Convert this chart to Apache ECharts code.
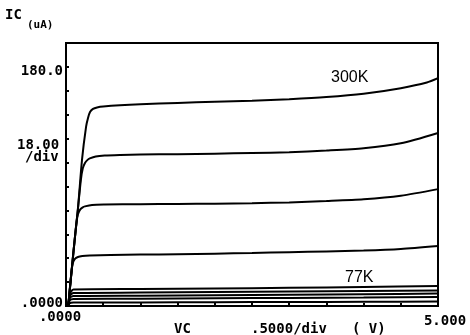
<!DOCTYPE html>
<html>
<head>
<meta charset="utf-8">
<script src="https://cdn.jsdelivr.net/npm/echarts@6/dist/echarts.min.js"></script>
<style>html,body{margin:0;padding:0;background:#fff}#c{width:470px;height:335px}</style>
</head>
<body>
<div id="c"></div>
<script>
// X axis: VC (V), Y axis: IC (uA)
const xTickLabels = { 0: '.0000', 5: '5.000' };
const yTickLabels = { 0: '.0000', 180: '180.0' };

// [VC (V), IC (uA)] pairs
const curve300K = [[0.03,0],[0.1,41],[0.16,73],[0.215,110],[0.27,135],[0.296,141.6],[0.323,146],[0.363,148.4],[0.417,149.5],[0.5,150.2],[1.0,151.8],[1.5,152.9],[2.0,153.7],[2.5,154.5],[3.0,155.7],[3.5,157.3],[4.0,159.8],[4.5,164],[4.85,168.2],[5.0,171.5]];
const curveT2 = [[0.03,0],[0.1,41],[0.16,73],[0.2,95],[0.225,103.5],[0.255,107.7],[0.29,110],[0.32,111.1],[0.4,112.6],[0.52,113.3],[0.73,113.7],[1.0,114],[1.5,114.3],[2.0,114.7],[2.5,115.2],[3.0,115.8],[3.5,117],[4.0,118.7],[4.5,122.5],[5.0,130.3]];
const curveT3 = [[0.03,0],[0.1,40],[0.135,60],[0.16,69],[0.19,72.6],[0.225,74.3],[0.255,75],[0.35,76.1],[0.52,76.4],[1.0,76.6],[1.5,76.8],[2.0,77],[2.5,77.4],[3.0,78],[3.5,79],[4.0,80.3],[4.5,83],[5.0,88]];
const curveT4 = [[0.03,0],[0.07,24],[0.09,32],[0.12,35.4],[0.16,36.9],[0.22,37.6],[0.32,38],[0.6,38.4],[1.0,38.7],[1.5,39],[2.0,39.4],[2.5,39.9],[3.0,40.5],[3.5,41.1],[4.0,41.8],[4.5,43],[5.0,45.2]];
const curve77Ka = [[0.03,0],[0.06,10],[0.1,12.4],[1,12.8],[2,13.2],[3,13.7],[4,14.3],[5,15.1]];
const curve77Kb = [[0.03,0],[0.055,8],[0.1,9.8],[1,10.1],[2,10.5],[3,10.9],[4,11.3],[5,11.7]];
const curve77Kc = [[0.03,0],[0.05,6],[0.1,7.5],[1,7.8],[2,8.1],[3,8.5],[4,8.9],[5,9.4]];
const curve77Kd = [[0.03,0],[0.05,4.3],[0.1,5.3],[1,5.5],[2,5.8],[3,6.1],[4,6.4],[5,6.8]];
const curve77Ke = [[0.03,0],[0.045,2],[0.1,2.6],[1,2.7],[2,2.9],[3,3.0],[4,3.2],[5,3.4]];

const allCurves = [curve300K, curveT2, curveT3, curveT4, curve77Ka, curve77Kb, curve77Kc, curve77Kd, curve77Ke];

const mono = 'DejaVu Sans Mono';
const chart = echarts.init(document.getElementById('c'), null, {renderer: 'canvas'});

chart.setOption({
  animation: false,
  backgroundColor: '#fff',
  grid: { left: 66, right: 32, top: 43, bottom: 29, show: true, borderColor: '#000', borderWidth: 2, backgroundColor: 'transparent' },
  xAxis: {
    type: 'value', min: 0, max: 5, interval: 0.5,
    axisLine: { lineStyle: { color: '#000', width: 2 } },
    axisTick: { show: true, inside: true, length: 3, lineStyle: { color: '#000', width: 2 } },
    splitLine: { show: false },
    axisLabel: {
      margin: 4,
      formatter: v => (xTickLabels[v] !== undefined ? (v === 0 ? '{a|' + xTickLabels[v] + '}' : '{b|' + xTickLabels[v] + '}') : ''),
      rich: {
        a: { fontFamily: mono, fontWeight: 'bold', fontSize: 14, color: '#000', padding: [0, 12, 0, 0] },
        b: { fontFamily: mono, fontWeight: 'bold', fontSize: 14, color: '#000', padding: [4, 0, 0, 14] }
      }
    }
  },
  yAxis: {
    type: 'value', min: 0, max: 198, interval: 18,
    axisLine: { show: true, lineStyle: { color: '#000', width: 2 } },
    axisTick: { show: true, inside: true, length: 3, lineStyle: { color: '#000', width: 2 } },
    splitLine: { show: false },
    axisLabel: {
      margin: 3,
      formatter: v => (yTickLabels[v] !== undefined ? (v === 0 ? '{b|' + yTickLabels[v] + '}' : '{a|' + yTickLabels[v] + '}') : ''),
      rich: {
        a: { fontFamily: mono, fontWeight: 'bold', fontSize: 14, color: '#000', padding: [8, 0, 0, 0] },
        b: { fontFamily: mono, fontWeight: 'bold', fontSize: 14, color: '#000', padding: [0, 0, 6, 0] }
      }
    }
  },
  series: allCurves.map(d => ({
    type: 'line', data: d, showSymbol: false, smooth: 0.25,
    lineStyle: { color: '#000', width: 2 }, z: 3
  })),
  graphic: [
    { type: 'text', left: 5, top: 8, style: { text: 'IC', font: 'bold 14px "DejaVu Sans Mono"', fill: '#000' } },
    { type: 'text', left: 27, top: 20, style: { text: '(uA)', font: 'bold 11px "DejaVu Sans Mono"', fill: '#000' } },
    { type: 'text', left: 17, top: 138, style: { text: '18.00', font: 'bold 14px "DejaVu Sans Mono"', fill: '#000' } },
    { type: 'text', left: 25, top: 150, style: { text: '/div', font: 'bold 14px "DejaVu Sans Mono"', fill: '#000' } },
    { type: 'text', left: 174, top: 322, style: { text: 'VC', font: 'bold 14px "DejaVu Sans Mono"', fill: '#000' } },
    { type: 'text', left: 251, top: 322, style: { text: '.5000/div', font: 'bold 14px "DejaVu Sans Mono"', fill: '#000' } },
    { type: 'text', left: 352, top: 322, style: { text: '( V)', font: 'bold 14px "DejaVu Sans Mono"', fill: '#000' } },
    { type: 'text', left: 331, top: 70, style: { text: '300K', font: '16px "Liberation Sans"', fill: '#000' } },
    { type: 'text', left: 345, top: 270, style: { text: '77K', font: '16px "Liberation Sans"', fill: '#000' } }
  ]
});
</script>
</body>
</html>
